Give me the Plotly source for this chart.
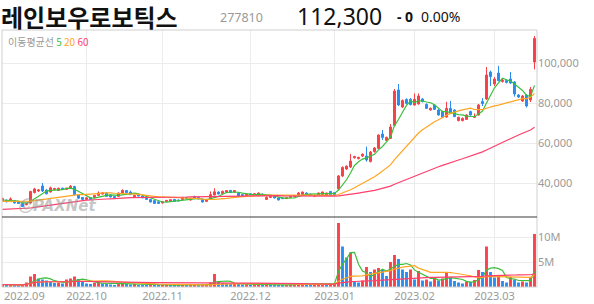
import plotly.graph_objects as go
import pandas as pd

# ---------------- data ----------------
dates = (
    ["2022-08-31"]
    + ["2022-09-" + d for d in ["01","02","05","06","07","08","13","14","15","16","19","20","21","22","23","26","27","28","29","30"]]
    + ["2022-10-" + d for d in ["04","05","06","07","11","12","13","14","17","18","19","20","21","24","25","26","27","28","31"]]
    + ["2022-11-" + d for d in ["01","02","03","04","07","08","09","10","11","14","15","16","17","18","21","22","23","24","25","28","29","30"]]
    + ["2022-12-" + d for d in ["01","02","05","06","07","08","09","12","13","14","15","16","19","20","21","22","23","26","27","28","29"]]
    + ["2023-01-" + d for d in ["02","03","04","05","06","09","10","11","12","13","16","17","18","19","20","25","26","27","30","31"]]
    + ["2023-02-" + d for d in ["01","02","03","06","07","08","09","10","13","14","15","16","17","20","21","22","23","24","27","28"]]
    + ["2023-03-" + d for d in ["02","03","06","07","08","09","10","13","14","15","16"]]
)

opens = [
    31200, 31400, 31500, 31200, 30500, 29800, 29200, 30000, 35200, 36000,
    38500, 36500, 35500, 36800, 36300, 37400, 36800, 37400, 38200, 34000,
    32800, 31800, 32600, 32800, 33800, 34500, 35000, 34000, 33200, 33300,
    35000, 36200, 35500, 32800, 34200, 33500, 33000, 31800, 31200, 30600,
    30000, 30800, 31000, 31800, 31500, 31700, 32800, 31500, 33300, 32800,
    32000, 30800, 32200, 34000, 35500, 34800, 35200, 36300, 35400, 35000,
    34200, 33800, 34600, 34200, 34300, 34500, 31800, 32800, 33300, 32500,
    32600, 32200, 32800, 33200, 34000, 34200, 35000, 34400, 33400, 33800,
    34300, 34000, 35800, 35200, 37000, 43500, 47000, 48000, 52600, 52200,
    53500, 53500, 50700, 55700, 57300, 64500, 61300, 62300, 68800, 86500,
    78000, 81800, 81800, 79000, 79500, 82000, 79300, 76500, 79000, 76500,
    75700, 73000, 77300, 76500, 71200, 71200, 71800, 75700, 72800, 74000,
    80700, 82000, 95500, 89500, 95000, 90800, 91300, 92000, 90500, 84000,
    81000, 84000, 81500, 100500,
]
highs = [
    32700, 31800, 32800, 31500, 30800, 30100, 30200, 36000, 37600, 37000,
    40000, 36800, 38200, 37600, 37600, 37700, 37600, 39000, 38600, 34300,
    33000, 32800, 32800, 34000, 35800, 35300, 35300, 34300, 33500, 35200,
    36800, 36500, 36200, 34000, 34400, 33800, 33200, 32000, 31400, 30800,
    30800, 31500, 31800, 32000, 31700, 33000, 33000, 32400, 33600, 33000,
    32200, 31800, 35800, 37400, 35800, 36200, 36400, 36500, 36400, 35200,
    34400, 34600, 34800, 34800, 35200, 34700, 33200, 33400, 33500, 32700,
    32800, 32800, 33400, 33700, 35500, 35700, 35300, 34600, 34000, 35200,
    35700, 35200, 36000, 35500, 44000, 48300, 48800, 54500, 53600, 53200,
    54800, 58200, 56000, 58000, 64300, 66500, 63200, 69500, 87000, 89500,
    81800, 82300, 82500, 84800, 84800, 82400, 79800, 77800, 79400, 76900,
    76200, 80600, 81000, 76900, 73200, 72800, 74400, 76200, 74800, 79500,
    82500, 98000, 96200, 93000, 98600, 92000, 91800, 95500, 91000, 84500,
    84000, 84500, 88000, 113500,
]
lows = [
    30800, 30300, 31000, 29800, 29500, 28000, 28800, 29800, 34800, 35500,
    35500, 34300, 35200, 36400, 36000, 36600, 36500, 37200, 33800, 32000,
    31500, 31500, 31600, 32600, 33600, 34200, 33100, 32800, 32500, 33100,
    34800, 35000, 34000, 32500, 33300, 32400, 31600, 30300, 29600, 29600,
    29800, 30500, 30600, 30600, 30900, 31500, 32000, 31200, 32300, 31800,
    30300, 30600, 32000, 33800, 34300, 34500, 35000, 35000, 35200, 33300,
    33600, 33600, 34000, 34000, 34100, 33700, 31600, 32600, 32300, 31300,
    32000, 32000, 32600, 33000, 33800, 34000, 34000, 33700, 33200, 33600,
    34100, 33800, 34000, 34000, 36500, 43000, 46500, 47500, 52200, 51800,
    53000, 50700, 50300, 55200, 57000, 61500, 61000, 62000, 68500, 78500,
    77500, 79300, 78800, 78700, 79200, 80300, 77000, 76200, 76500, 73700,
    72400, 72700, 74500, 72900, 70800, 70800, 71500, 73700, 72500, 73700,
    78500, 81500, 88500, 88500, 90800, 90200, 89800, 89500, 83200, 82500,
    80500, 77800, 80500, 96800,
]
closes = [
    32200, 30600, 32000, 30000, 29800, 28300, 29800, 35800, 37000, 36500,
    36000, 34600, 37600, 37200, 37400, 36800, 37400, 38400, 34200, 32400,
    31800, 32600, 31800, 33800, 35000, 35000, 33300, 33000, 32800, 35000,
    36300, 35200, 34200, 33800, 33500, 32600, 31800, 30500, 29800, 29800,
    30600, 31300, 31600, 30800, 31100, 32800, 32200, 32200, 32500, 32000,
    30500, 31600, 34200, 35600, 34500, 35800, 36200, 35200, 36200, 33500,
    33800, 34400, 34200, 34600, 35000, 33900, 32800, 33200, 32500, 31500,
    32200, 32600, 33200, 33500, 35000, 35500, 34200, 33900, 33800, 35000,
    35500, 35000, 34200, 34200, 43500, 47800, 48400, 51000, 53200, 52800,
    54400, 51500, 55500, 57500, 64000, 62800, 62800, 68000, 86000, 79000,
    81200, 79800, 79200, 81800, 83500, 80700, 77300, 77300, 76800, 74000,
    72800, 77300, 74800, 73200, 72800, 72300, 74000, 74000, 73200, 79000,
    79700, 94000, 93200, 92000, 91200, 91400, 90300, 90000, 84500, 83000,
    83500, 78500, 86800, 112300,
]
volumes_m = [
    0.50, 0.40, 0.45, 0.40, 0.35, 0.45, 0.90, 2.10, 2.60, 1.70,
    1.50, 1.30, 1.00, 0.80, 0.90, 0.70, 1.50, 1.70, 2.10, 1.60,
    1.00, 0.70, 0.60, 0.80, 1.00, 0.70, 0.60, 0.50, 0.40, 0.60,
    0.80, 0.60, 0.50, 0.60, 0.40, 0.35, 0.30, 0.45, 0.40, 0.35,
    0.40, 0.45, 0.40, 0.35, 0.30, 0.50, 0.40, 0.45, 0.50, 0.40,
    0.45, 0.50, 0.90, 2.60, 1.00, 0.80, 0.70, 0.60, 0.65, 0.60,
    0.50, 0.55, 0.45, 0.50, 0.55, 0.45, 0.60, 0.50, 0.45, 0.40,
    0.35, 0.40, 0.45, 0.50, 0.70, 0.80, 0.60, 0.50, 0.55, 0.60,
    0.70, 0.60, 0.65, 0.70, 12.8, 8.1, 5.9, 6.9, 1.0, 0.9,
    1.3, 4.0, 3.0, 3.5, 3.8, 3.4, 2.2, 5.0, 6.4, 5.6,
    3.5, 3.0, 3.5, 1.5, 3.2, 1.3, 1.5, 1.1, 1.7, 1.3,
    1.7, 2.9, 1.8, 1.2, 0.9, 0.7, 1.1, 1.0, 1.4, 3.4,
    3.0, 8.1, 3.0, 1.9, 2.4, 1.2, 0.9, 2.0, 1.5, 0.9,
    1.1, 0.9, 2.0, 10.6,
]

# moving-average values at the left edge (their windows start before the chart)
ma5_early = [31500, 31300, 31300, 31000]
ma20_early = [30800, 30800, 30800, 30800, 30800, 30700, 30700, 30900, 31200, 31500,
              31800, 32000, 32300, 32600, 32900, 33200, 33500, 33800, 34000]
ma60_early = [26800, 26850, 26900, 26950, 27000, 27100, 27300, 27500, 27800, 28100,
              28400, 28700, 29000, 29300, 29600, 29900, 30200, 30500, 30700, 31000,
              31200, 31400, 31500, 31700, 31800, 31900, 32000, 32100, 32300, 32400,
              32500, 32600, 32700, 32700, 32800, 32800, 32800, 32900, 32900, 32900,
              32900, 33000, 33000, 33000, 33000, 33000, 33000, 33100, 33100, 33100,
              33100, 33100, 33200, 33200, 33200, 33200, 33300, 33300, 33300]

month_ticks = ["2022-10-04", "2022-11-01", "2022-12-01", "2023-01-02", "2023-02-01", "2023-03-02"]
month_labels = ["2022.10", "2022.11", "2022.12", "2023.01", "2023.02", "2023.03"]
first_month_label = "2022.09"
price_ticks = [40000, 60000, 80000, 100000]
volume_ticks = [5, 10]
volume_tick_labels = ["5M", "10M"]

ma_windows = [5, 20, 60]
ma_colors = ["#3cbf3c", "#ffa522", "#ff3f6c"]

# ---------------- derived series ----------------
close_s = pd.Series(closes, dtype=float)
vol_s = pd.Series(volumes_m, dtype=float)
early = {5: ma5_early, 20: ma20_early, 60: ma60_early}
price_ma = {}
for w in ma_windows:
    m = close_s.rolling(w).mean()
    m.iloc[:len(early[w])] = early[w]
    price_ma[w] = m
vol_ma = {w: vol_s.rolling(w, min_periods=1).mean() for w in ma_windows}

RED = "#f7424b"
BLUE = "#2b8cf0"
vol_colors = [RED] + [RED if volumes_m[i] >= volumes_m[i - 1] else BLUE for i in range(1, len(volumes_m))]

# ---------------- figure ----------------
W, H = 594, 304
L, R, T, B = 2, 57, 30, 17
SPLIT = 217
plot_h = H - T - B
vol_top = (H - B - SPLIT) / plot_h


def px(x):
    return (x - L) / (W - L - R)


def py(y):
    return (H - B - y) / plot_h


fig = go.Figure()

fig.add_trace(go.Candlestick(
    x=dates, open=opens, high=highs, low=lows, close=closes,
    increasing=dict(line=dict(color=RED, width=1), fillcolor=RED),
    decreasing=dict(line=dict(color=BLUE, width=1), fillcolor=BLUE),
    whiskerwidth=0, xaxis="x2", yaxis="y2", showlegend=False, hoverinfo="skip",
))
for w, c in zip(ma_windows, ma_colors):
    fig.add_trace(go.Scatter(x=dates, y=price_ma[w], mode="lines", line=dict(color=c, width=1.2),
                             xaxis="x2", yaxis="y2", showlegend=False, hoverinfo="skip"))

fig.add_trace(go.Bar(x=dates, y=volumes_m, marker=dict(color=vol_colors, line=dict(width=0)),
                     width=0.72, xaxis="x", yaxis="y", showlegend=False, hoverinfo="skip"))
for w, c in zip(ma_windows, ma_colors):
    fig.add_trace(go.Scatter(x=dates, y=vol_ma[w], mode="lines", line=dict(color=c, width=1.2),
                             xaxis="x", yaxis="y", showlegend=False, hoverinfo="skip"))

xr = [-0.125, len(dates) - 1 + 0.625]
grid = "#ececec"
tickfont = dict(family="Noto Sans", size=11, color="#9a9a9a")

fig.update_layout(
    width=W, height=H,
    margin=dict(l=L, r=R, t=T, b=B),
    paper_bgcolor="white", plot_bgcolor="white",
    bargap=0.25,
    xaxis=dict(type="category", range=xr, domain=[0, 1], anchor="y",
               tickmode="array", tickvals=month_ticks, ticktext=month_labels,
               showgrid=True, gridcolor=grid, gridwidth=1, showline=False, zeroline=False,
               ticks="", tickfont=tickfont, ticklabelstandoff=1),
    xaxis2=dict(type="category", range=xr, domain=[0, 1], anchor="y2", matches="x",
                tickmode="array", tickvals=month_ticks, showticklabels=False,
                showgrid=True, gridcolor=grid, gridwidth=1, showline=False, zeroline=False,
                rangeslider=dict(visible=False), ticks=""),
    yaxis=dict(domain=[0, vol_top], range=[0, 14], side="right", tickmode="array",
               tickvals=volume_ticks, ticktext=volume_tick_labels, showgrid=True, gridcolor=grid,
               zeroline=False, showline=False, ticks="", tickfont=tickfont),
    yaxis2=dict(domain=[vol_top, 1], range=[23000, 116500], side="right", tickmode="array",
                tickvals=price_ticks, ticktext=[f"{v:,}" for v in price_ticks], showgrid=True,
                gridcolor=grid, zeroline=False, showline=False, ticks="", tickfont=tickfont),
    shapes=[
        dict(type="rect", xref="paper", yref="paper", x0=0, x1=1, y0=0, y1=1,
             line=dict(color="#cfcfcf", width=1), layer="above"),
        dict(type="line", xref="paper", yref="paper", x0=0, x1=1, y0=vol_top, y1=vol_top,
             line=dict(color="#3a3a3a", width=1.2), layer="above"),
    ],
)

ann = []
ann.append(dict(text="레인보우로보틱스", x=px(0), y=py(16.5), xanchor="left", yanchor="middle",
                font=dict(family="Noto Sans CJK KR", size=24, color="#111", weight="bold"),
                borderpad=0))
ann.append(dict(text="277810", x=px(219), y=py(18), xanchor="left", yanchor="middle",
                font=dict(family="Noto Sans", size=12.5, color="#9a9a9a"), borderpad=0))
ann.append(dict(text="112,300", x=px(296), y=py(16.5), xanchor="left", yanchor="middle",
                font=dict(family="Noto Sans", size=23, color="#111"), borderpad=0))
ann.append(dict(text="- 0", x=px(396), y=py(17), xanchor="left", yanchor="middle",
                font=dict(family="Noto Sans", size=14, color="#111", weight="bold"), borderpad=0))
ann.append(dict(text="0.00%", x=px(420), y=py(17), xanchor="left", yanchor="middle",
                font=dict(family="Noto Sans", size=14, color="#111"), borderpad=0))
ann.append(dict(text="이동평균선 <span style='color:%s'>5</span> <span style='color:%s'>20</span> "
                     "<span style='color:%s'>60</span>" % tuple(ma_colors),
                x=px(7), y=py(41.5), xanchor="left", yanchor="middle", borderpad=0,
                font=dict(family="Noto Sans CJK KR", size=10, color="#9a9a9a")))
ann.append(dict(text="ⓒPAXNet", x=px(16), y=py(206), xanchor="left", yanchor="middle",
                font=dict(family="DejaVu Sans", size=15, color="rgba(150,150,150,0.55)",
                          weight="bold", style="italic")))
ann.append(dict(text=first_month_label, x=px(2), y=py(295), xanchor="left", yanchor="middle",
                font=tickfont))
for a in ann:
    a.update(xref="paper", yref="paper", showarrow=False)
fig.update_layout(annotations=ann)

fig.write_html("out.html")
